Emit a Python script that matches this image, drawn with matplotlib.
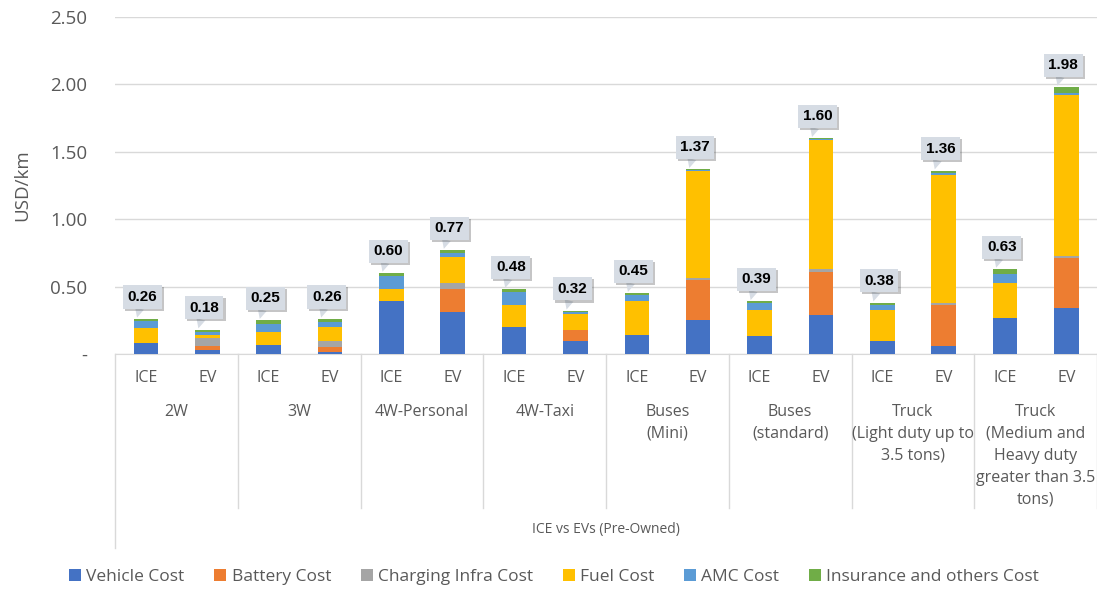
import numpy as np
import matplotlib
matplotlib.use("Agg")
import matplotlib.pyplot as plt
import matplotlib.patheffects as pe
import matplotlib.transforms as mtransforms

plt.rcParams['font.family'] = ['Open Sans', 'DejaVu Sans']

groups = ['2W', '3W', '4W-Personal', '4W-Taxi', 'Buses\n(Mini)', 'Buses\n(standard)',
          'Truck\n(Light duty up to\n3.5 tons)',
          'Truck\n(Medium and\nHeavy duty\ngreater than 3.5\ntons)']
types = ['ICE', 'EV']

# USD/km per cost component, ICE/EV pairs per group
vehicle = [0.08, 0.03, 0.065, 0.015, 0.39, 0.31, 0.20, 0.10, 0.14, 0.25, 0.13, 0.29, 0.10, 0.06, 0.27, 0.34]
battery = [0, 0.03, 0, 0.035, 0, 0.17, 0, 0.08, 0, 0.30, 0, 0.32, 0, 0.30, 0, 0.37]
charging = [0, 0.055, 0, 0.05, 0, 0.05, 0, 0, 0, 0.015, 0, 0.02, 0, 0.02, 0, 0.02]
fuel = [0.11, 0.025, 0.10, 0.10, 0.09, 0.19, 0.16, 0.12, 0.25, 0.79, 0.20, 0.955, 0.225, 0.95, 0.255, 1.19]
amc = [0.055, 0.02, 0.06, 0.035, 0.10, 0.03, 0.10, 0.01, 0.045, 0.01, 0.045, 0.01, 0.04, 0.015, 0.07, 0.02]
insurance = [0.015, 0.02, 0.025, 0.025, 0.02, 0.02, 0.02, 0.01, 0.015, 0.005, 0.015, 0.005, 0.015, 0.015, 0.035, 0.04]

series = [('Vehicle Cost', vehicle, '#4472C4'),
          ('Battery Cost', battery, '#ED7D31'),
          ('Charging Infra Cost', charging, '#A5A5A5'),
          ('Fuel Cost', fuel, '#FFC000'),
          ('AMC Cost', amc, '#5B9BD5'),
          ('Insurance and others Cost', insurance, '#70AD47')]

fig = plt.figure(figsize=(10.97, 5.89), dpi=100)
ax = fig.add_axes([0.105, 0.399, 0.895, 0.572])

x = np.arange(len(vehicle))
bottom = np.zeros(len(x))
for name, vals, col in series:
    ax.bar(x, vals, 0.4, bottom=bottom, color=col, label=name, zorder=3)
    bottom += np.array(vals)

ax.set_xlim(-0.5, 15.5)
ax.set_ylim(0, 2.5)
ax.set_yticks([0, 0.5, 1.0, 1.5, 2.0, 2.5])
ax.set_yticklabels(['-', '0.50', '1.00', '1.50', '2.00', '2.50'])
ax.tick_params(axis='y', length=0, labelsize=13.5, labelcolor='#595959', pad=20)
ax.set_xticks([])
ax.grid(axis='y', color='#D9D9D9', lw=1, zorder=0)
for s in ['top', 'right', 'left']:
    ax.spines[s].set_visible(False)
ax.spines['bottom'].set_color('#D9D9D9')
ax.set_ylabel('USD/km', fontsize=13.5, color='#595959', labelpad=14)

# data labels as callouts
for xi, tot in zip(x, bottom):
    t = ax.annotate(f'{tot:.2f}', xy=(xi - 0.15, tot), xytext=(6, 22),
                    textcoords='offset pixels', ha='center', va='center',
                    fontsize=11, fontweight='bold', family='Liberation Sans', zorder=5,
                    bbox=dict(boxstyle='square,pad=0.3', fc='#D6DCE4', ec='none'),
                    arrowprops=dict(arrowstyle='wedge,tail_width=0.6', fc='#D6DCE4',
                                    ec='none', shrinkA=0, shrinkB=1))
    t.get_bbox_patch().set_path_effects([pe.SimplePatchShadow(offset=(1.5, -1.5), alpha=0.3), pe.Normal()])

# multi-level category axis
tr = mtransforms.blended_transform_factory(ax.transData, ax.transAxes)
def ay(px):
    return -(px - 354) / 337.0

for xi in x:
    ax.text(xi, ay(378), types[xi % 2], transform=tr, ha='center', va='center',
            fontsize=11.5, color='#595959')
for gi, g in enumerate(groups):
    ax.text(2 * gi + 0.5, ay(404), g, transform=tr, ha='center', va='top',
            fontsize=11.5, color='#595959', linespacing=1.5)
for b in np.arange(-0.5, 16, 2):
    end = ay(548) if b == -0.5 else ay(508)
    ax.plot([b, b], [0, end], transform=tr, color='#D9D9D9', lw=1, clip_on=False)
ax.text(7.5, ay(530), 'ICE vs EVs (Pre-Owned)', transform=tr, ha='center', va='center',
        fontsize=10, color='#595959')

fig.legend(loc='center', bbox_to_anchor=(0.505, 0.021), ncol=6, frameon=False,
           fontsize=12.5, handlelength=0.7, handleheight=0.7, handletextpad=0.3,
           columnspacing=1.7, labelcolor='#595959')

fig.savefig('out.png', dpi=100)
